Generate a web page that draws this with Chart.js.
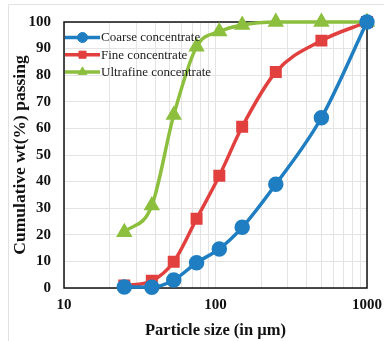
<!DOCTYPE html>
<html>
<head>
<meta charset="utf-8">
<script src="https://cdn.jsdelivr.net/npm/chart.js@4/dist/chart.umd.min.js"></script>
<style>
  html, body { margin: 0; padding: 0; background: #fff; }
  #wrap { width: 384px; height: 341px; position: relative; }
</style>
</head>
<body>
<div id="wrap"><canvas id="chart" width="384" height="341"></canvas></div>
<script>
// sieve sizes (µm) and cumulative passing (%)
const sizes = [25, 38, 53, 75, 106, 150, 250, 500, 1000];
const coarse = [0.4, 0.3, 3, 9.5, 14.7, 22.8, 39, 64, 100];
const fine = [0.9, 2.7, 9.9, 26, 42.2, 60.6, 81.2, 93, 100];
const ultrafine = [21, 31, 65, 90.7, 96.4, 98.9, 100, 100, 100];
const xTicks = [10, 20, 30, 40, 50, 60, 70, 80, 90, 100, 200, 300, 400, 500, 600, 700, 800, 900, 1000];

const serif = "'Liberation Serif', 'Times New Roman', serif";

function series(label, values, color, style) {
    return {
        label: label,
        data: sizes.map((s, i) => ({ x: s, y: values[i] })),
        borderColor: color,
        backgroundColor: color,
        borderWidth: 3.5,
        pointStyle: style,
        pointRadius: 6,
        pointHoverRadius: 6,
        cubicInterpolationMode: 'monotone',
        clip: false
    };
}

// outer frame and the box round the plot
const frame = {
    id: 'frame',
    beforeDraw(chart) {
        const ctx = chart.ctx;
        ctx.save();
        ctx.strokeStyle = '#e2e2e2';
        ctx.lineWidth = 1;
        ctx.beginPath();
        ctx.moveTo(8.5, 341);
        ctx.lineTo(8.5, 4.5);
        ctx.lineTo(384, 4.5);
        ctx.stroke();
        ctx.restore();
    },
    beforeDatasetsDraw(chart) {
        const a = chart.chartArea, ctx = chart.ctx;
        ctx.save();
        ctx.strokeStyle = '#111';
        ctx.lineWidth = 1.5;
        ctx.strokeRect(a.left, a.top, a.right - a.left, a.bottom - a.top);
        ctx.restore();
    }
};

// legend: line with the marker in its middle, text to the right
const lineLegend = {
    id: 'lineLegend',
    afterDatasetsDraw(chart) {
        const a = chart.chartArea, ctx = chart.ctx;
        ctx.save();
        chart.data.datasets.forEach((d, i) => {
            const y = a.top + 15.5 + i * 17.2;
            const x0 = a.left + 1, x1 = a.left + 36;
            ctx.strokeStyle = d.borderColor;
            ctx.fillStyle = d.backgroundColor;
            ctx.lineWidth = d.borderWidth;
            ctx.beginPath();
            ctx.moveTo(x0, y);
            ctx.lineTo(x1, y);
            ctx.stroke();
            ctx.lineWidth = 1;
            Chart.helpers.drawPoint(ctx, {
                pointStyle: d.pointStyle, radius: 5, borderWidth: 1
            }, (x0 + x1) / 2, y);
            ctx.fillStyle = '#222';
            ctx.font = '13px ' + serif;
            ctx.textBaseline = 'middle';
            ctx.fillText(d.label, x1 + 1, y + 0.5);
        });
        ctx.restore();
    }
};

new Chart(document.getElementById('chart').getContext('2d'), {
    type: 'line',
    data: {
        datasets: [
            series('Coarse concentrate', coarse, '#1f7ec2', 'circle'),
            series('Fine concentrate', fine, '#e2403e', 'rect'),
            series('Ultrafine concentrate', ultrafine, '#8dbf3e', 'triangle')
        ]
    },
    options: {
        responsive: false,
        animation: false,
        layout: { padding: { left: 0, top: 21, right: 17, bottom: 0 } },
        plugins: {
            tooltip: { enabled: false },
            legend: { display: false }
        },
        scales: {
            x: {
                type: 'logarithmic',
                min: 10,
                max: 1000,
                afterBuildTicks(scale) {
                    scale.ticks = xTicks.map(v => ({ value: v }));
                },
                afterFit(scale) {
                    scale.height = 53;
                    scale.paddingLeft = 0;
                    scale.paddingRight = 0;
                },
                grid: { color: '#e4e4e4', drawTicks: false },
                border: { display: false },
                ticks: {
                    autoSkip: false,
                    maxRotation: 0,
                    padding: 8,
                    color: '#111',
                    font: { family: serif, size: 15, weight: 'bold' },
                    callback: v => ([10, 100, 1000].includes(v) ? String(v) : '')
                },
                title: {
                    display: true,
                    text: 'Particle size (in µm)',
                    color: '#111',
                    padding: { top: 4, bottom: 0 },
                    font: { family: serif, size: 16.5, weight: 'bold' }
                }
            },
            y: {
                min: 0,
                max: 100,
                afterFit(scale) { scale.width = 64; },
                grid: { color: '#e4e4e4', drawTicks: false },
                border: { display: false },
                ticks: {
                    stepSize: 10,
                    padding: 13,
                    color: '#111',
                    font: { family: serif, size: 15, weight: 'bold' }
                },
                title: {
                    display: true,
                    text: 'Cumulative wt(%) passing',
                    color: '#111',
                    padding: { top: 10, bottom: 0 },
                    font: { family: serif, size: 17.5, weight: 'bold' }
                }
            }
        }
    },
    plugins: [frame, lineLegend]
});
</script>
</body>
</html>
